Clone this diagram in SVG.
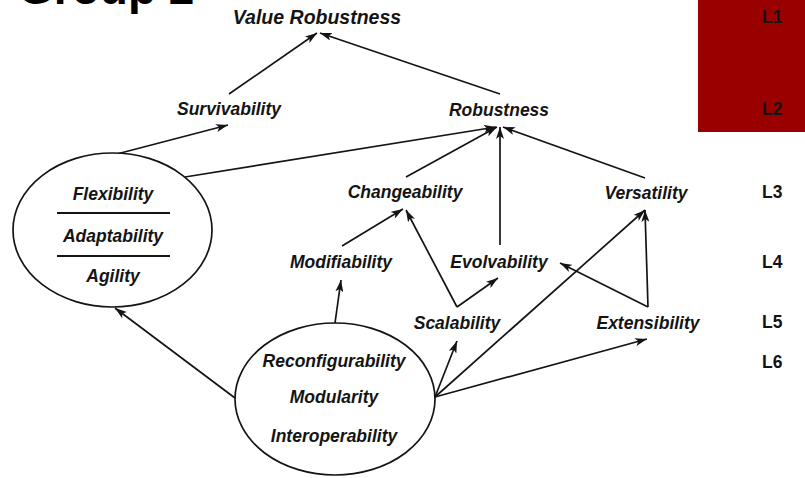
<svg xmlns="http://www.w3.org/2000/svg" width="805" height="478" viewBox="0 0 805 478">
<style>
.t{font-family:"Liberation Sans",Arial,sans-serif;font-weight:bold;font-style:italic;font-size:17.5px;fill:#141414;text-anchor:middle}
.lv{font-family:"Liberation Sans",Arial,sans-serif;font-weight:bold;font-size:17.5px;fill:#141414}
.c line{stroke:#141414;stroke-width:1.7;fill:none}
.a{marker-end:url(#ah)}
.el{fill:#fff;stroke:#141414;stroke-width:1.7}
</style>
<defs>
<marker id="ah" viewBox="0 0 12 8" refX="12" refY="4" markerWidth="12" markerHeight="8" markerUnits="userSpaceOnUse" orient="auto">
<path d="M0,0 L12,4 L0,8 L3,4 z" fill="#141414"/>
</marker>
</defs>
<rect width="805" height="478" fill="#fff"/>
<text x="18" y="4" style="font-family:'Liberation Sans',Arial,sans-serif;font-weight:bold;font-size:46px;fill:#000">Group 2</text>
<g id="levels">
<rect x="698" y="0" width="107" height="132" fill="#990000"/>
<text class="lv" x="762" y="23">L1</text>
<text class="lv" x="762" y="115">L2</text>
<text class="lv" x="762" y="198">L3</text>
<text class="lv" x="762" y="268">L4</text>
<text class="lv" x="762" y="328">L5</text>
<text class="lv" x="762" y="368">L6</text>
</g>
<g id="connectors" class="c">
<line class="a" x1="229" y1="94" x2="317" y2="33"/>
<line class="a" x1="500" y1="94" x2="320" y2="33"/>
<line class="a" x1="113" y1="155" x2="228" y2="125"/>
<line class="a" x1="185" y1="177" x2="496" y2="127"/>
<line class="a" x1="406" y1="177" x2="497" y2="127"/>
<line class="a" x1="500" y1="245" x2="500" y2="127"/>
<line class="a" x1="645" y1="178" x2="503" y2="127"/>
<line class="a" x1="342" y1="246" x2="403" y2="209"/>
<line class="a" x1="457" y1="307" x2="406" y2="210"/>
<line class="a" x1="457" y1="307" x2="498" y2="278"/>
<line class="a" x1="648" y1="307" x2="560" y2="263"/>
<line class="a" x1="648" y1="307" x2="645" y2="210"/>
<line class="a" x1="435" y1="397" x2="645" y2="210"/>
<line class="a" x1="435" y1="397" x2="457" y2="341"/>
<line class="a" x1="435" y1="397" x2="647" y2="339"/>
<line class="a" x1="335" y1="323" x2="341" y2="280"/>
<line class="a" x1="235" y1="398" x2="115" y2="308"/>
</g>
<g id="value-robustness"><text class="t" x="317" y="24" style="font-size:19.5px">Value Robustness</text></g>
<g id="survivability"><text class="t" x="229" y="115">Survivability</text></g>
<g id="robustness"><text class="t" x="499" y="116">Robustness</text></g>
<g id="changeability"><text class="t" x="405" y="198">Changeability</text></g>
<g id="versatility"><text class="t" x="646" y="199">Versatility</text></g>
<g id="modifiability"><text class="t" x="341" y="268">Modifiability</text></g>
<g id="evolvability"><text class="t" x="499" y="268">Evolvability</text></g>
<g id="scalability"><text class="t" x="457" y="329">Scalability</text></g>
<g id="extensibility"><text class="t" x="648" y="329">Extensibility</text></g>
<g id="flex-group">
<ellipse class="el" cx="112.5" cy="230" rx="99.5" ry="77"/>
<text class="t" x="113" y="200">Flexibility</text>
<line x1="57" y1="213" x2="170" y2="213" stroke="#141414" stroke-width="2"/>
<text class="t" x="113" y="242">Adaptability</text>
<line x1="57" y1="256" x2="170" y2="256" stroke="#141414" stroke-width="2"/>
<text class="t" x="113" y="282">Agility</text>
</g>
<g id="reconf-group">
<ellipse class="el" cx="335" cy="399" rx="100" ry="76"/>
<text class="t" x="334" y="367">Reconfigurability</text>
<text class="t" x="334" y="403">Modularity</text>
<text class="t" x="334" y="442">Interoperability</text>
</g>
</svg>
